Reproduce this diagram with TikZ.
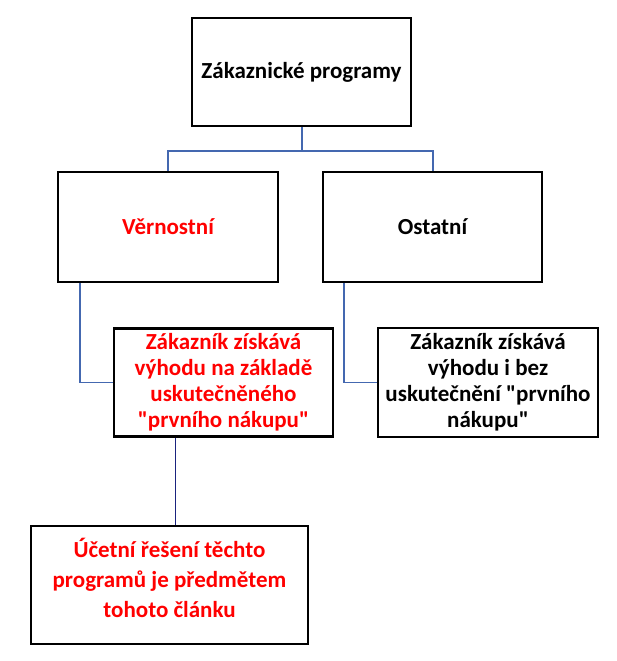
\documentclass[tikz,border=0pt]{standalone}
\usepackage{fontspec}
\setmainfont{Carlito}[Ligatures=TeXOff]
\definecolor{conblue}{HTML}{4468B0}
\definecolor{navyline}{HTML}{1A237E}
\tikzset{
  box/.style={draw=black, line width=2.5pt, rectangle, inner sep=0pt, align=center,
    font=\bfseries\fontsize{23}{26}\selectfont},
  txt/.style={inner sep=0pt, align=center, font=\bfseries\fontsize{23}{30}\selectfont},
  redtext/.style={text=red},
  conn/.style={draw=conblue, line width=1.6pt},
  thinconn/.style={draw=navyline, line width=0.9pt}
}
\begin{document}
\begin{tikzpicture}[x=1pt,y=-1pt]
\useasboundingbox (0,0) rectangle (616,661);
\node[box, minimum width=219pt, minimum height=108pt] (top) at (301.5,72) {Zákaznické programy};
\node[box, redtext, minimum width=220pt, minimum height=110pt] (vern) at (168,227) {Věrnostní};
\node[box, minimum width=219pt, minimum height=110pt] (ost) at (432.5,227) {Ostatní};
\node[box, redtext, minimum width=219pt, minimum height=108pt] (mid) at (223.5,382.5) {Zákazník získává\\výhodu na základě\\uskutečněného\\"prvního nákupu"};
\node[box, minimum width=220pt, minimum height=109pt] (right) at (488,382.5) {Zákazník získává\\výhodu i bez\\uskutečnění "prvního\\nákupu"};
\node[box, minimum width=277pt, minimum height=118pt] (bot) at (169.5,585) {};
\node[txt, redtext] (bottxt) at (169.5,578) {Účetní řešení těchto\\programů je předmětem\\tohoto článku};
\coordinate (bus) at ([yshift=-24pt]top.south);
\draw[conn, line width=2pt] (top.south) -- (bus);
\draw[conn, line width=2pt] (bus) -| (vern.north);
\draw[conn, line width=2pt] (bus) -| (ost.north);
\draw[conn] ([xshift=23pt]vern.south west) |- (mid.west);
\draw[conn] ([xshift=22pt]ost.south west) |- (right.west);
\coordinate (midout) at ([xshift=63pt]mid.south west);
\draw[thinconn] (midout) -- (midout |- bot.north);
\end{tikzpicture}
\end{document}
